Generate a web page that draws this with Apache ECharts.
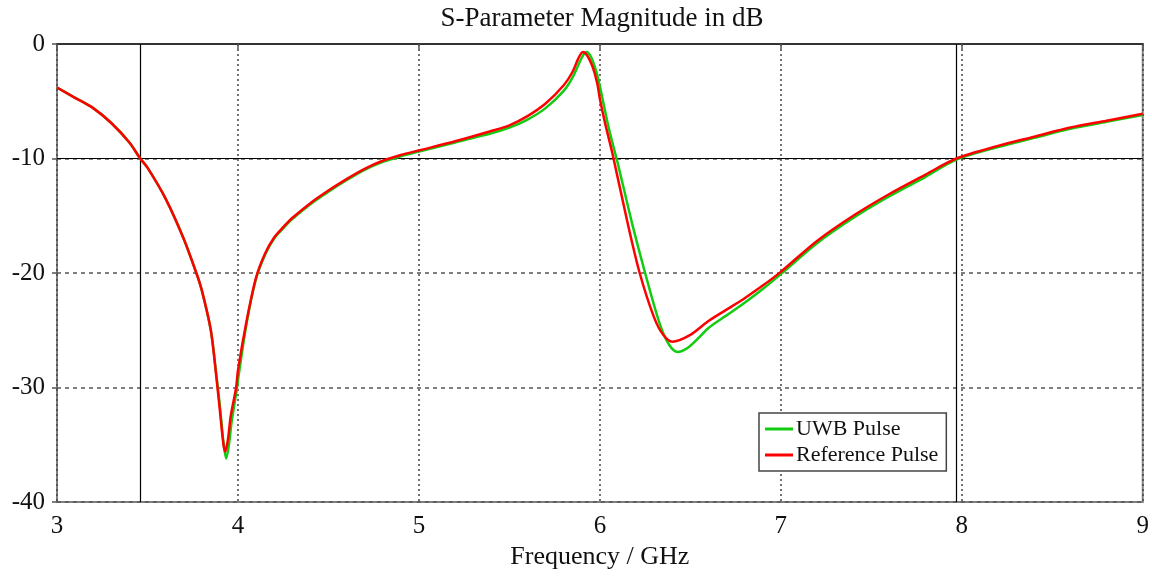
<!DOCTYPE html>
<html>
<head>
<meta charset="utf-8">
<script src="https://cdn.jsdelivr.net/npm/echarts@6/dist/echarts.min.js"></script>
<style>
  html, body { margin: 0; padding: 0; background: #fff; }
  #chart { width: 1152px; height: 580px; }
</style>
</head>
<body>
<div id="chart"></div>
<script>
// S11 magnitude (GHz, dB)
var refFreq = [3.00, 3.10, 3.20, 3.30, 3.40, 3.46, 3.50, 3.60, 3.70, 3.77, 3.80, 3.85, 3.88, 3.90, 3.92, 3.93, 3.945, 3.96, 3.99, 4.00, 4.05, 4.10, 4.15, 4.20, 4.25, 4.30, 4.40, 4.50, 4.60, 4.70, 4.80, 4.90, 5.00, 5.20, 5.40, 5.50, 5.60, 5.70, 5.80, 5.85, 5.88, 5.906, 5.93, 5.96, 5.985, 6.00, 6.03, 6.07, 6.15, 6.22, 6.30, 6.35, 6.40, 6.50, 6.60, 6.70, 6.80, 6.90, 7.00, 7.20, 7.40, 7.60, 7.80, 7.97, 8.20, 8.40, 8.60, 8.80, 9.00];
var refDb   = [-3.8, -4.7, -5.6, -6.9, -8.6, -10.0, -10.8, -13.5, -17.0, -20.0, -21.5, -25.0, -29.0, -32.0, -35.0, -35.6, -34.5, -32.5, -30.0, -28.5, -24.0, -20.4, -18.3, -16.9, -16.0, -15.2, -13.9, -12.8, -11.8, -10.9, -10.2, -9.7, -9.3, -8.5, -7.6, -7.1, -6.3, -5.2, -3.6, -2.4, -1.3, -0.7, -1.0, -2.0, -3.4, -4.8, -7.0, -9.6, -15.4, -20.0, -23.9, -25.4, -26.0, -25.4, -24.2, -23.2, -22.2, -21.1, -19.9, -17.2, -15.0, -13.1, -11.4, -10.0, -8.9, -8.1, -7.3, -6.7, -6.1];

var uwbFreq = [3.00, 3.10, 3.20, 3.30, 3.40, 3.46, 3.50, 3.60, 3.70, 3.77, 3.80, 3.85, 3.88, 3.90, 3.92, 3.935, 3.95, 3.965, 3.995, 4.005, 4.05, 4.10, 4.15, 4.20, 4.25, 4.30, 4.40, 4.50, 4.60, 4.70, 4.80, 4.90, 5.00, 5.20, 5.40, 5.50, 5.60, 5.70, 5.80, 5.85, 5.90, 5.925, 5.95, 5.98, 6.00, 6.02, 6.05, 6.10, 6.18, 6.25, 6.33, 6.38, 6.43, 6.48, 6.55, 6.60, 6.70, 6.80, 6.90, 7.00, 7.20, 7.40, 7.60, 7.80, 7.97, 8.20, 8.40, 8.60, 8.80, 9.00];
var uwbDb   = [-3.8, -4.7, -5.6, -6.9, -8.6, -10.0, -10.8, -13.5, -17.0, -20.0, -21.5, -25.0, -28.8, -31.6, -34.8, -36.2, -35.0, -33.0, -30.0, -28.8, -24.2, -20.5, -18.4, -17.0, -16.1, -15.3, -14.0, -12.9, -11.9, -11.0, -10.3, -9.8, -9.4, -8.6, -7.8, -7.3, -6.6, -5.6, -4.1, -2.9, -1.2, -0.7, -1.1, -2.4, -3.7, -5.2, -7.4, -10.5, -15.8, -20.0, -24.4, -26.2, -26.9, -26.6, -25.6, -24.8, -23.7, -22.6, -21.4, -20.1, -17.4, -15.2, -13.3, -11.6, -10.1, -9.0, -8.2, -7.4, -6.8, -6.2];

// -10 dB bandwidth markers
var bandEdges = [3.459, 7.967];
var refLevel = -10;

function pairs(xs, ys) {
  return xs.map(function (x, i) { return [x, ys[i]]; });
}

var serif = '"Liberation Serif", "DejaVu Serif", serif';

var option = {
  animation: false,
  title: {
    text: 'S-Parameter Magnitude in dB',
    left: 597,
    textAlign: 'center',
    top: 0,
    textStyle: { fontFamily: serif, fontWeight: 'normal', fontSize: 27, color: '#111' }
  },
  grid: {
    left: 57, right: 9, top: 44, bottom: 78,
    show: true, borderColor: '#808080', borderWidth: 2, backgroundColor: '#fff'
  },
  legend: {
    orient: 'vertical',
    left: 759, top: 413,
    padding: [5, 8, 5, 6],
    itemGap: 4,
    itemWidth: 28, itemHeight: 3,
    icon: 'rect',
    backgroundColor: '#fff',
    borderColor: '#444', borderWidth: 1.5, borderRadius: 0,
    textStyle: { fontFamily: serif, fontSize: 22, color: '#111', padding: [0, 0, 0, -2] },
    data: ['UWB Pulse', 'Reference Pulse']
  },
  xAxis: [{
    type: 'value', min: 3, max: 9, interval: 1,
    name: 'Frequency / GHz', nameLocation: 'middle', nameGap: 42,
    nameTextStyle: { fontFamily: serif, fontSize: 26, color: '#111' },
    axisLine: { show: false },
    axisTick: { show: true, length: 5, lineStyle: { color: '#555', width: 1.5 } },
    axisLabel: { fontFamily: serif, fontSize: 25, color: '#111', margin: 12 },
    splitLine: { show: true, lineStyle: { color: '#444', width: 1.5, type: [2, 3] } }
  }, {
    type: 'value', min: 3, max: 9, position: 'top',
    axisLine: { show: true, lineStyle: { color: '#333', width: 2 } },
    axisTick: { show: false }, axisLabel: { show: false }, splitLine: { show: false }
  }],
  yAxis: {
    type: 'value', min: -40, max: 0, interval: 10,
    axisLine: { show: false },
    axisTick: { show: true, length: 5, lineStyle: { color: '#555', width: 1.5 } },
    axisLabel: { fontFamily: serif, fontSize: 25, color: '#111', margin: 12 },
    splitLine: { show: true, lineStyle: { color: '#555', width: 1.5, type: [4, 4] } }
  },
  series: [{
    name: 'UWB Pulse',
    type: 'line',
    data: pairs(uwbFreq, uwbDb),
    symbol: 'none',
    smooth: 0.3,
    lineStyle: { color: '#11cc11', width: 2.5 },
    itemStyle: { color: '#11cc11' },
    z: 3
  }, {
    name: 'Reference Pulse',
    type: 'line',
    data: pairs(refFreq, refDb),
    symbol: 'none',
    smooth: 0.3,
    lineStyle: { color: '#ff0000', width: 2.5 },
    itemStyle: { color: '#ff0000' },
    z: 4,
    markLine: {
      silent: true,
      symbol: 'none',
      label: { show: false },
      lineStyle: { color: '#000', width: 1.2, type: 'solid' },
      data: [{ xAxis: bandEdges[0] }, { xAxis: bandEdges[1] }, { yAxis: refLevel }],
      z: 2
    }
  }]
};

var myChart = echarts.init(document.getElementById('chart'));
myChart.setOption(option);
</script>
</body>
</html>
